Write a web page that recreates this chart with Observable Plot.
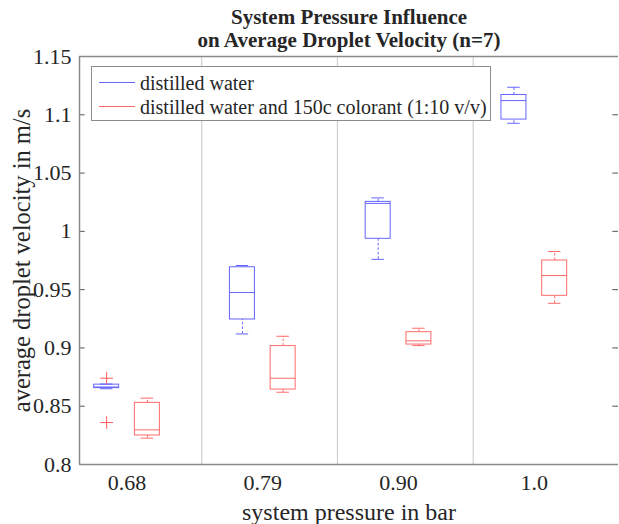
<!DOCTYPE html>
<html><head><meta charset="utf-8">
<script src="https://cdn.jsdelivr.net/npm/d3@7"></script>
<script src="https://cdn.jsdelivr.net/npm/@observablehq/plot@0.6"></script>
<style>
body{margin:0;background:#fff;}
#wrap{position:relative;width:619px;height:524px;}
svg text{font-family:"Liberation Serif",serif;}
.legend{position:absolute;left:91px;top:66px;width:400px;height:55px;border:1px solid #8c8c8c;background:#fff;box-sizing:border-box;font-family:"Liberation Serif",serif;font-size:20px;color:#262626;}
.legend .row{position:absolute;left:0;height:24px;width:100%;}
.legend .sw{position:absolute;left:7px;width:36px;top:11px;height:0;border-top:1px solid;}
.legend .lab{position:absolute;left:48px;top:0;line-height:24px;white-space:nowrap;}
</style></head><body><div id="wrap"></div>
<script>
const pressures = ["0.68", "0.79", "0.90", "1.0"];
const series = ["distilled water", "distilled water and 150c colorant (1:10 v/v)"];
const colors = ["#6464ff", "#ff6a6a"];

// distilled water
const waterLo  = [0.8650, 0.9120, 0.9760, 1.0927];
const waterQ1  = [0.8655, 0.9244, 0.9936, 1.0959];
const waterMed = [0.8665, 0.9475, 1.0240, 1.1122];
const waterQ3  = [0.8685, 0.9692, 1.0253, 1.1170];
const waterHi  = [0.8690, 0.9707, 1.0287, 1.1236];
// distilled water and colorant
const dyeLo  = [0.8226, 0.8620, 0.9020, 0.9383];
const dyeQ1  = [0.8249, 0.8643, 0.9029, 0.9447];
const dyeMed = [0.8297, 0.8740, 0.9061, 0.9621];
const dyeQ3  = [0.8529, 0.9016, 0.9135, 0.9750];
const dyeHi  = [0.8569, 0.9100, 0.9169, 0.9827];

// outliers: pressure index, series index, value
const outlierP = [0, 0];
const outlierS = [0, 0];
const outlierV = [0.874, 0.836];

const yTicks = [0.8, 0.85, 0.9, 0.95, 1, 1.05, 1.1, 1.15];
const yTickLabels = ["0.8", "0.85", "0.9", "0.95", "1", "1.05", "1.1", "1.15"];
const separators = [1.55, 2.55, 3.55];

const title = ["System Pressure Influence", "on Average Droplet Velocity (n=7)"];
const xLabel = "system pressure in bar";
const yLabel = "average droplet velocity in m/s";

const xDomain = [0.65, 4.62];
const offset = [-0.15, 0.15];
const halfBox = 0.092, halfCap = 0.046, tickLen = 0.042;
const serif = "'Liberation Serif', serif";

const stats = [
  {lo: waterLo, q1: waterQ1, med: waterMed, q3: waterQ3, hi: waterHi},
  {lo: dyeLo, q1: dyeQ1, med: dyeMed, q3: dyeQ3, hi: dyeHi}
];
const rows = [];
stats.forEach((st, s) => pressures.forEach((p, i) => rows.push({
  s, pos: i + 1 + offset[s], lo: st.lo[i], q1: st.q1[i], med: st.med[i], q3: st.q3[i], hi: st.hi[i]
})));
const outliers = outlierV.map((v, k) => ({pos: outlierP[k] + 1 + offset[outlierS[k]], v}));

const marks = [
  Plot.ruleX(separators, {stroke: "#cfcfcf", strokeWidth: 1.2}),
];
[0, 1].forEach(s => {
  const d = rows.filter(r => r.s === s);
  const c = colors[s];
  marks.push(
    Plot.ruleX(d, {x: "pos", y1: "q3", y2: "hi", stroke: c, strokeDasharray: "2.5,2"}),
    Plot.ruleX(d, {x: "pos", y1: "lo", y2: "q1", stroke: c, strokeDasharray: "2.5,2"}),
    Plot.ruleY(d, {y: "hi", x1: r => r.pos - halfCap, x2: r => r.pos + halfCap, stroke: c}),
    Plot.ruleY(d, {y: "lo", x1: r => r.pos - halfCap, x2: r => r.pos + halfCap, stroke: c}),
    Plot.rect(d, {x1: r => r.pos - halfBox, x2: r => r.pos + halfBox, y1: "q1", y2: "q3", stroke: c, fill: "none"}),
    Plot.ruleY(d, {y: "med", x1: r => r.pos - halfBox, x2: r => r.pos + halfBox, stroke: c})
  );
});
marks.push(
  Plot.dot(outliers, {x: "pos", y: "v", symbol: "plus", r: 4.2, stroke: "#ff5a5a", strokeWidth: 1}),
  Plot.ruleY(yTicks, {y: d => d, x1: xDomain[0], x2: xDomain[0] + tickLen, stroke: "#555"}),
  Plot.ruleY(yTicks, {y: d => d, x1: xDomain[1] - tickLen, x2: xDomain[1], stroke: "#555"}),
  Plot.ruleX([xDomain[0]], {stroke: "#8a8a8a", strokeWidth: 1.5}),
  Plot.ruleY([0.8, 1.15], {stroke: "#8a8a8a", strokeWidth: 1.5}),
  Plot.axisY({ticks: yTicks, tickFormat: d => yTickLabels[yTicks.indexOf(d)], tickSize: 0, tickPadding: 8, fontSize: 22, fontFamily: serif, label: null}),
  Plot.axisX({ticks: [1, 2, 3, 4], tickFormat: d => pressures[d - 1], tickSize: 0, tickPadding: 10, fontSize: 22, fontFamily: serif, label: null}),
  Plot.text([yLabel], {text: d => d, frameAnchor: "left", rotate: -90, dx: -57, fontSize: 24.5, fontFamily: serif, textAnchor: "middle"}),
  Plot.text([xLabel], {text: d => d, frameAnchor: "bottom", dy: 48, fontSize: 24, fontFamily: serif, lineAnchor: "middle"}),
  Plot.text([title[0]], {text: d => d, frameAnchor: "top", dy: -39, fontSize: 21, fontFamily: serif, fontWeight: "bold", lineAnchor: "middle"}),
  Plot.text([title[1]], {text: d => d, frameAnchor: "top", dy: -16, fontSize: 21, fontFamily: serif, fontWeight: "bold", lineAnchor: "middle"})
);

const chart = Plot.plot({
  width: 619,
  height: 524,
  marginLeft: 79,
  marginRight: 1,
  marginTop: 56,
  marginBottom: 60,
  x: {domain: xDomain},
  y: {domain: [0.8, 1.15]},
  style: {fontFamily: serif, color: "#262626", background: "#fff", overflow: "visible"},
  marks
});
const wrap = document.getElementById("wrap");
wrap.appendChild(chart);

const legend = document.createElement("div");
legend.className = "legend";
series.forEach((name, s) => {
  const row = document.createElement("div");
  row.className = "row";
  row.style.top = (4 + s * 24) + "px";
  const sw = document.createElement("div");
  sw.className = "sw";
  sw.style.borderColor = colors[s];
  const lab = document.createElement("div");
  lab.className = "lab";
  lab.textContent = name;
  row.appendChild(sw); row.appendChild(lab);
  legend.appendChild(row);
});
wrap.appendChild(legend);
</script>
</body></html>
